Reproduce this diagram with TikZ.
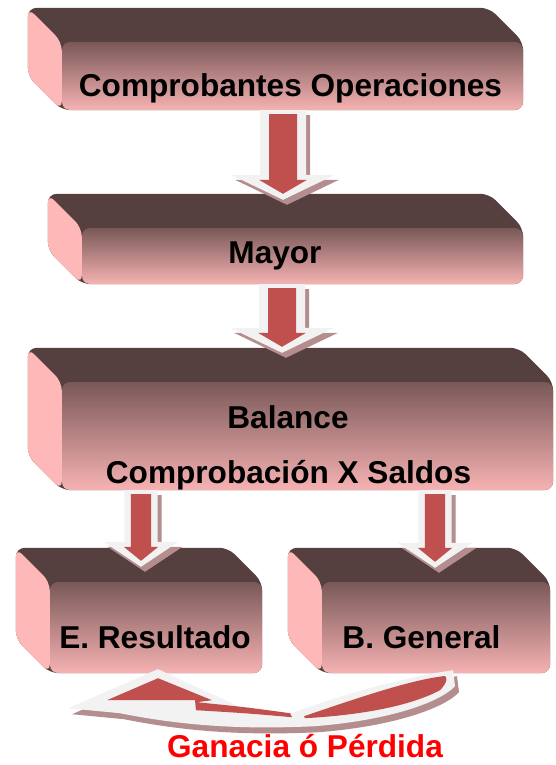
\documentclass[tikz,border=0pt]{standalone}
\usepackage{fontspec}
\setmainfont{Liberation Sans}
\usepackage{tikz}
\usetikzlibrary{calc}
\usetikzlibrary{backgrounds}
\definecolor{topface}{RGB}{85,63,63}
\definecolor{sideface}{RGB}{255,184,184}
\definecolor{facetop}{RGB}{122,88,88}
\definecolor{facebot}{RGB}{246,178,178}
\definecolor{arrowred}{RGB}{192,80,77}
\definecolor{arrowrim}{RGB}{242,242,242}
\definecolor{arrowshade}{RGB}{180,142,142}
\tikzset{
  boxface/.style={rectangle, rounded corners=8pt, inner sep=0pt,
    top color=facetop, bottom color=facebot},
  lbl/.style={font=\fontsize{31.6}{38}\selectfont\bfseries, inner sep=0pt, anchor=base},
}

\begin{document}
\begin{tikzpicture}[x=1pt, y=-1pt]
\useasboundingbox (0,0) rectangle (555,765);

% front faces
\node[boxface, minimum width=461pt, minimum height=68pt] (ops) at (292.5,76) {};
\node[boxface, minimum width=441pt, minimum height=56pt] (mayor) at (302.5,256) {};
\node[boxface, minimum width=491pt, minimum height=108pt] (bal) at (307.5,436) {};
\node[boxface, minimum width=212pt, minimum height=91pt] (res) at (156,627.5) {};
\node[boxface, minimum width=228pt, minimum height=91pt] (gen) at (436,627.5) {};

% texts
\node[lbl] (opslbl) at (290.5,97) {Comprobantes Operaciones};
\node[lbl] (mayorlbl) at (275,263) {Mayor};
\node[lbl] (ballbl) at (288,428) {Balance};
\node[lbl] (complbl) at (288.5,483) {Comprobación X Saldos};
\node[lbl] (reslbl) at (155,648) {E. Resultado};
\node[lbl] (genlbl) at (421.5,648) {B. General};
\node[lbl, text=red] (gplbl) at (305,757) {Ganacia ó Pérdida};

% extruded top and left faces
\begin{scope}[on background layer]
\foreach \f in {ops, mayor, bal, res, gen} {
	\fill[topface, rounded corners=9pt] ($(\f.south west)+(-34,-34)$) -- ($(\f.north west)+(-34,-34)$)
		-- ($(\f.north east)+(-34,-34)$) -- (\f.north east) -- (\f.south east) -- (\f.south west) -- cycle;
	\fill[sideface, rounded corners=9pt] ($(\f.south west)+(-34,-34)$) -- ($(\f.north west)+(-34,-34)$)
		-- (\f.north west) -- (\f.south west) -- cycle;
	};
\end{scope}

% block arrows
\foreach \src/\dst/\ax/\s/\tp in {ops/mayor/283/1/28, mayor/bal/282/1/29, bal/res/141/0.72/15, bal/gen/435/0.72/14} {
	\coordinate (s) at (\src.south -| \ax,0);
	\coordinate (t) at (\dst.north -| \ax,0);
	\coordinate (tip) at ($(t)+(0,-\tp)$);
	\fill[arrowshade, transform canvas={xshift=4pt,yshift=-5pt}] ($(s)+(-23*\s,0)$) -- ($(tip)+(-23*\s,-25)$) -- ($(tip)+(-52*\s,-25)$)
		-- (tip) -- ($(tip)+(52*\s,-25)$) -- ($(tip)+(23*\s,-25)$) -- ($(s)+(23*\s,0)$) -- cycle;
	\fill[arrowrim] ($(s)+(-23*\s,0)$) -- ($(tip)+(-23*\s,-25)$) -- ($(tip)+(-52*\s,-25)$)
		-- (tip) -- ($(tip)+(52*\s,-25)$) -- ($(tip)+(23*\s,-25)$) -- ($(s)+(23*\s,0)$) -- cycle;
	\fill[arrowred] ($(s)+(-14*\s,4)$) -- ($(tip)+(-14*\s,-20)$) -- ($(tip)+(-24*\s,-20)$)
		-- ($(tip)+(0,-6)$) -- ($(tip)+(24*\s,-20)$) -- ($(tip)+(14*\s,-20)$) -- ($(s)+(14*\s,4)$) -- cycle;
	}

% curved arrow from B. General back to E. Resultado
\coordinate (hd) at (res.south);
\coordinate (tl) at (gen.south);
\foreach \c/\dx/\dy in {arrowshade/4/-6, arrowrim/0/0} {
	\fill[\c, transform canvas={xshift=\dx pt, yshift=\dy pt}] ($(tl)+(17,-3)$) .. controls ($(tl)+(-26,3)$) and ($(tl)+(-91,20)$) .. ($(hd)+(136,40)$)
		-- ($(hd)+(91,37)$) -- ($(hd)+(2,-4)$) -- ($(hd)+(-88,35)$) -- ($(hd)+(-36,40)$)
		.. controls ($(hd)+(34,54)$) and ($(hd)+(94,56)$) .. ($(tl)+(-121,53)$)
		.. controls ($(tl)+(-46,47)$) and ($(tl)+(4,29)$) .. ($(tl)+(19,13)$) -- cycle;
	}
\fill[arrowred] ($(hd)+(-49,27)$) -- ($(hd)+(2,5)$) -- ($(hd)+(56,27)$) -- ($(hd)+(41,29)$)
	.. controls ($(hd)+(90,34)$) .. ($(hd)+(134,40)$) -- ($(hd)+(136,44)$)
	.. controls ($(hd)+(90,40)$) .. ($(hd)+(40,37)$) -- ($(hd)+(39,27)$) -- cycle;
\fill[arrowred] ($(tl)+(-132,43)$) .. controls ($(tl)+(-76,24)$) and ($(tl)+(-26,7)$) .. ($(tl)+(7,3)$)
	.. controls ($(tl)+(13,2)$) and ($(tl)+(11,10)$) .. ($(tl)+(4,17)$)
	.. controls ($(tl)+(-26,33)$) and ($(tl)+(-76,42)$) .. ($(tl)+(-131,45)$) -- cycle;
\end{tikzpicture}
\end{document}
